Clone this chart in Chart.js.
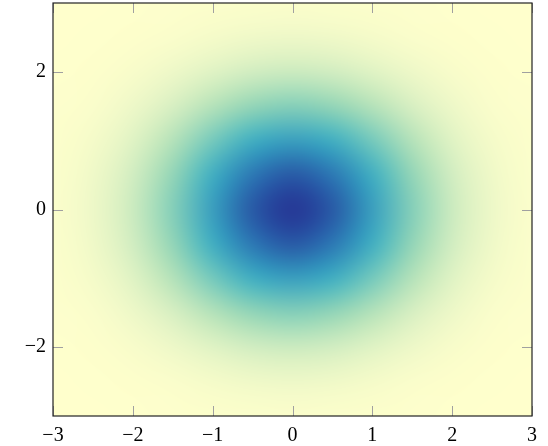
<!DOCTYPE html>
<html>
<head>
<meta charset="utf-8">
<script src="https://cdn.jsdelivr.net/npm/chart.js@4"></script>
<style>
  html, body { margin: 0; padding: 0; background: #ffffff; }
  #wrap { width: 548px; height: 446px; position: relative; }
</style>
</head>
<body>
<div id="wrap"><canvas id="c" width="548" height="446"></canvas></div>
<script>
// Grid coordinates of the sampled surface
const xGrid = [-3, -2.5, -2, -1.5, -1, -0.5, 0, 0.5, 1, 1.5, 2, 2.5, 3];
const yGrid = [-3, -2.5, -2, -1.5, -1, -0.5, 0, 0.5, 1, 1.5, 2, 2.5, 3];

const zRowM3  = [0.000,0.001,0.002,0.004,0.007,0.010,0.011,0.010,0.007,0.004,0.002,0.001,0.000];
const zRowM25 = [0.001,0.002,0.006,0.014,0.027,0.039,0.044,0.039,0.027,0.014,0.006,0.002,0.001];
const zRowM2  = [0.002,0.006,0.018,0.044,0.082,0.119,0.135,0.119,0.082,0.044,0.018,0.006,0.002];
const zRowM15 = [0.004,0.014,0.044,0.105,0.197,0.287,0.325,0.287,0.197,0.105,0.044,0.014,0.004];
const zRowM1  = [0.007,0.027,0.082,0.197,0.368,0.535,0.607,0.535,0.368,0.197,0.082,0.027,0.007];
const zRowM05 = [0.010,0.039,0.119,0.287,0.535,0.779,0.883,0.779,0.535,0.287,0.119,0.039,0.010];
const zRow0   = [0.011,0.044,0.135,0.325,0.607,0.883,1.000,0.883,0.607,0.325,0.135,0.044,0.011];
const zRowP05 = [0.010,0.039,0.119,0.287,0.535,0.779,0.883,0.779,0.535,0.287,0.119,0.039,0.010];
const zRowP1  = [0.007,0.027,0.082,0.197,0.368,0.535,0.607,0.535,0.368,0.197,0.082,0.027,0.007];
const zRowP15 = [0.004,0.014,0.044,0.105,0.197,0.287,0.325,0.287,0.197,0.105,0.044,0.014,0.004];
const zRowP2  = [0.002,0.006,0.018,0.044,0.082,0.119,0.135,0.119,0.082,0.044,0.018,0.006,0.002];
const zRowP25 = [0.001,0.002,0.006,0.014,0.027,0.039,0.044,0.039,0.027,0.014,0.006,0.002,0.001];
const zRowP3  = [0.000,0.001,0.002,0.004,0.007,0.010,0.011,0.010,0.007,0.004,0.002,0.001,0.000];
const zRows = [zRowM3, zRowM25, zRowM2, zRowM15, zRowM1, zRowM05, zRow0, zRowP05, zRowP1, zRowP15, zRowP2, zRowP25, zRowP3];

// Tick labels
const xTicks = [-3, -2, -1, 0, 1, 2, 3];
const yTicks = [-2, 0, 2];

// Colour map (YlGnBu, low -> high)
const cmapColors = ['#ffffcc', '#a1dab4', '#41b6c4', '#2c7fb8', '#253494'];

function hexToRgb(h) {
  return [parseInt(h.slice(1,3),16), parseInt(h.slice(3,5),16), parseInt(h.slice(5,7),16)];
}
const cmapRgb = cmapColors.map(hexToRgb);
function colorFor(t) {
  t = Math.max(0, Math.min(1, t));
  const n = cmapRgb.length - 1;
  const p = t * n;
  const i = Math.min(n - 1, Math.floor(p));
  const f = p - i;
  const a = cmapRgb[i], b = cmapRgb[i + 1];
  return [a[0] + (b[0]-a[0])*f, a[1] + (b[1]-a[1])*f, a[2] + (b[2]-a[2])*f];
}

const heatmapPlugin = {
  id: 'heatmap',
  beforeDatasetsDraw(chart) {
    const { ctx, chartArea, scales } = chart;
    const xs = scales.x, ys = scales.y;
    const nx = xGrid.length, ny = yGrid.length;
    let zmin = Infinity, zmax = -Infinity;
    zRows.forEach(r => r.forEach(v => { zmin = Math.min(zmin, v); zmax = Math.max(zmax, v); }));
    const off = document.createElement('canvas');
    off.width = nx; off.height = ny;
    const octx = off.getContext('2d');
    const img = octx.createImageData(nx, ny);
    for (let r = 0; r < ny; r++) {
      const row = zRows[ny - 1 - r]; // image row 0 is top (largest y)
      for (let c = 0; c < nx; c++) {
        const col = colorFor((row[c] - zmin) / (zmax - zmin));
        const k = (r * nx + c) * 4;
        img.data[k] = Math.round(col[0]);
        img.data[k+1] = Math.round(col[1]);
        img.data[k+2] = Math.round(col[2]);
        img.data[k+3] = 255;
      }
    }
    octx.putImageData(img, 0, 0);
    const hx = (xGrid[1] - xGrid[0]) / 2, hy = (yGrid[1] - yGrid[0]) / 2;
    const left = xs.getPixelForValue(xGrid[0] - hx);
    const right = xs.getPixelForValue(xGrid[nx - 1] + hx);
    const top = ys.getPixelForValue(yGrid[ny - 1] + hy);
    const bottom = ys.getPixelForValue(yGrid[0] - hy);
    ctx.save();
    ctx.beginPath();
    ctx.rect(chartArea.left, chartArea.top, chartArea.right - chartArea.left, chartArea.bottom - chartArea.top);
    ctx.clip();
    ctx.imageSmoothingEnabled = true;
    ctx.imageSmoothingQuality = 'high';
    ctx.drawImage(off, left, top, right - left, bottom - top);
    ctx.restore();
  },
  afterDraw(chart) {
    const { ctx, chartArea, scales } = chart;
    const xs = scales.x, ys = scales.y;
    const L = chartArea.left, R = chartArea.right, T = chartArea.top, B = chartArea.bottom;
    const tl = 10;
    ctx.save();
    ctx.strokeStyle = '#a0a0a0';
    ctx.lineWidth = 1;
    ctx.beginPath();
    xTicks.forEach(v => {
      const px = Math.round(xs.getPixelForValue(v)) + 0.5;
      ctx.moveTo(px, B); ctx.lineTo(px, B - tl);
      ctx.moveTo(px, T); ctx.lineTo(px, T + tl);
    });
    yTicks.forEach(v => {
      const py = Math.round(ys.getPixelForValue(v)) + 0.5;
      ctx.moveTo(L, py); ctx.lineTo(L + tl, py);
      ctx.moveTo(R, py); ctx.lineTo(R - tl, py);
    });
    ctx.stroke();
    ctx.strokeStyle = '#222222';
    ctx.lineWidth = 1.2;
    ctx.strokeRect(L, T, R - L, B - T);
    ctx.restore();
  }
};

function fmt(v) { return v < 0 ? '\u2212' + Math.abs(v) : String(v); }

new Chart(document.getElementById('c'), {
  type: 'scatter',
  data: { datasets: [{ data: [], pointRadius: 0 }] },
  plugins: [heatmapPlugin],
  options: {
    responsive: false,
    animation: false,
    layout: { padding: { top: 3, right: 16, left: 0, bottom: 0 } },
    plugins: { legend: { display: false }, tooltip: { enabled: false } },
    scales: {
      x: {
        type: 'linear', min: -3, max: 3,
        grid: { display: false, drawTicks: false },
        border: { display: false },
        afterBuildTicks: s => { s.ticks = xTicks.map(v => ({ value: v })); },
        afterFit: s => { s.height = 30; s.paddingLeft = 0; s.paddingRight = 0; },
        ticks: {
          autoSkip: false, maxRotation: 0, padding: 8,
          color: '#000', font: { family: 'Liberation Serif', size: 20 },
          callback: v => fmt(v)
        }
      },
      y: {
        type: 'linear', min: -3, max: 3,
        grid: { display: false, drawTicks: false },
        border: { display: false },
        afterBuildTicks: s => { s.ticks = yTicks.map(v => ({ value: v })); },
        afterFit: s => { s.width = 53; s.paddingTop = 0; s.paddingBottom = 0; },
        ticks: {
          autoSkip: false, padding: 7,
          color: '#000', font: { family: 'Liberation Serif', size: 20 },
          callback: v => fmt(v)
        }
      }
    }
  }
});
</script>
</body>
</html>
